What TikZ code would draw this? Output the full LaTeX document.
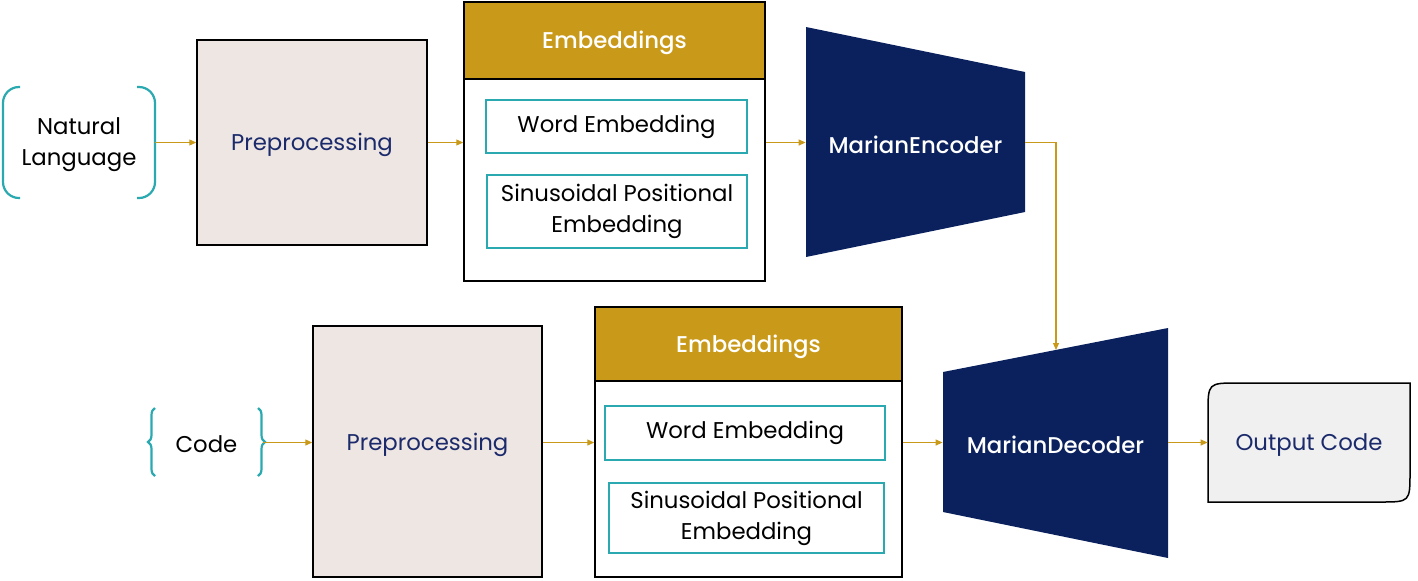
\documentclass[tikz,border=0pt]{standalone}
\usepackage{fontspec}
\setmainfont{Poppins}[BoldFont={Poppins Medium}]
\usetikzlibrary{arrows.meta, decorations.pathreplacing}
\definecolor{marianblue}{RGB}{10, 33, 94}
\definecolor{embgold}{RGB}{201, 154, 26}
\definecolor{softteal}{RGB}{42, 170, 176}
\definecolor{inkblue}{RGB}{27, 42, 107}
\definecolor{prepfill}{RGB}{238, 230, 227}
\definecolor{outfill}{RGB}{240, 240, 240}

\begin{document}
\begin{tikzpicture}[
        x=0.5pt, y=-0.5pt,
        every node/.style={font=\fontsize{11.4}{15.5}\selectfont},
        prepro/.style={
            rectangle,
            fill=prepfill,
            draw=black,
            line width=0.75pt,
            minimum width=115pt
        },
        embbox/.style={
            rectangle,
            fill=white,
            draw=black,
            line width=0.75pt
        },
        embhead/.style={
            rectangle,
            fill=embgold,
            draw=black,
            line width=0.75pt,
            text=white,
            font=\fontsize{11.4}{15.5}\selectfont\bfseries
        },
        layer/.style={
            rectangle,
            draw=softteal,
            line width=1pt,
            align=center
        },
        coder/.style={
            rectangle,
            inner sep=0pt,
            text=white,
            font=\fontsize{11.4}{15.5}\selectfont\bfseries
        },
        bracket/.style={
            draw=softteal,
            line width=1.1pt
        },
        flow/.style={
            -{Triangle[length=3.5pt, width=3pt]},
            draw=embgold,
            line width=0.6pt
        }
    ]
        \useasboundingbox (0,0) rectangle (1418,580);

        \node[align=center, minimum width=76pt] (nl) at (79,144.5) {Natural\\Language};
        \draw[bracket, rounded corners=8pt] (20,87) -- (3,87) -- (3,198) -- (20,198);
        \draw[bracket, rounded corners=8pt] (137,87) -- (155,87) -- (155,198) -- (137,198);

        \node[prepro, minimum height=102.5pt] (pre1) at (312,142.5) {};
        \node[text=inkblue] (pre1txt) at (312,145) {Preprocessing};

        \node[embbox, minimum width=150.5pt, minimum height=139.5pt] (emb1) at (614.5,141.5) {};
        \node[embhead, minimum width=150.5pt, minimum height=38.5pt] (head1) at (614.5,40.5) {};
        \node[text=white, font=\fontsize{11.4}{15.5}\selectfont\bfseries] at (614.5,43) {Embeddings};
        \node[layer, minimum width=130.5pt, minimum height=26.5pt] (word1) at (616.5,126.5) {Word Embedding};
        \node[layer, minimum width=130pt, minimum height=36.5pt] (sin1) at (617,211.5) {Sinusoidal Positional\\Embedding};

        \fill[marianblue] (806,27) -- (1025,72) -- (1025,212) -- (806,257) -- cycle;
        \node[coder, minimum width=109.5pt, minimum height=115pt] (enc) at (915.5,142.5) {};
        \node[coder] at (915.5,145) {MarianEncoder};

        \node[minimum width=56.5pt] (code) at (206.5,444.5) {Code};
        \draw[bracket, decorate, decoration={brace, amplitude=3.5pt}] (155,476) -- (155,408);
        \draw[bracket, decorate, decoration={brace, amplitude=3.5pt}] (258,408) -- (258,476);

        \node[prepro, minimum width=114.5pt, minimum height=125.5pt] (pre2) at (427.5,451.5) {};
        \node[text=inkblue] (pre2txt) at (427.5,445) {Preprocessing};

        \node[embbox, minimum width=153.5pt, minimum height=135pt] (emb2) at (748.5,442) {};
        \node[embhead, minimum width=153.5pt, minimum height=37pt] (head2) at (748.5,344) {};
        \node[text=white, font=\fontsize{11.4}{15.5}\selectfont\bfseries] at (748.5,346.5) {Embeddings};
        \node[layer, minimum width=140pt, minimum height=27pt] (word2) at (745,433) {Word Embedding};
        \node[layer, minimum width=137.5pt, minimum height=35pt] (sin2) at (746.5,518) {Sinusoidal Positional\\Embedding};

        \fill[marianblue] (943,372) -- (1168,328) -- (1168,558) -- (943,512) -- cycle;
        \node[coder, minimum width=112.5pt, minimum height=115pt] (dec) at (1055.5,442.5) {};
        \node[coder] at (1055.5,445) {MarianDecoder};
        \coordinate (decin) at (1056,350);

        \filldraw[fill=outfill, draw=black, line width=0.75pt]
            (1208,502) -- (1208,413) .. controls (1208,383) .. (1238,383)
            -- (1410,383) -- (1410,472) .. controls (1410,502) .. (1380,502) -- cycle;
        \node[minimum width=101pt, minimum height=59.5pt] (out) at (1309,442.5) {};
        \node[text=inkblue] at (1309,445) {Output Code};

        \draw[flow] (nl.east |- pre1.west) -- (pre1.west);
        \draw[flow] (pre1.east) -- (emb1.west |- pre1.east);
        \draw[flow] (emb1.east |- enc.west) -- (enc.west);
        \draw[flow] (enc.east) -| (decin);
        \draw[flow] (code.east |- dec.west) -- (pre2.west |- dec.west);
        \draw[flow] (pre2.east |- dec.west) -- (emb2.west |- dec.west);
        \draw[flow] (emb2.east |- dec.west) -- (dec.west);
        \draw[flow] (dec.east) -- (out.west);
    \end{tikzpicture}
\end{document}
